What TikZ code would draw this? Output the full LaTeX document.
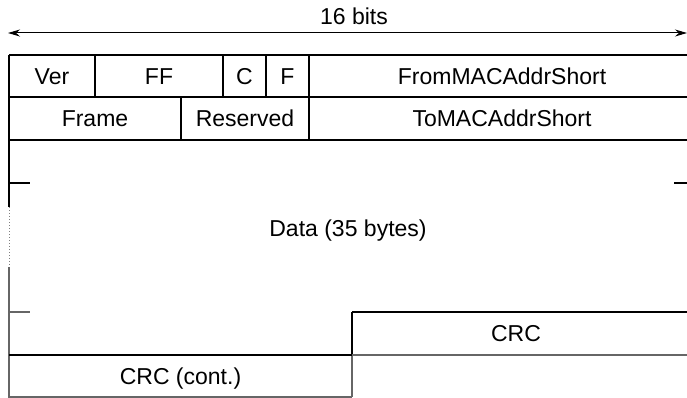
\documentclass[tikz,border=0pt]{standalone}
\usepackage{fontspec}
\setmainfont{Liberation Sans}
\usetikzlibrary{arrows.meta}
\begin{document}
\begin{tikzpicture}[x=1pt,y=-1pt,
  fld/.style={inner sep=0pt,text height=16.5pt,text depth=0pt,font=\fontsize{23}{27}\selectfont},
  rule/.style={line width=1.3pt,black},
  faint/.style={line width=1.3pt,black!60},
  heavy/.style={line width=2pt,black}]
\useasboundingbox (0,0) rectangle (687,398);

% width indicator
\node[fld] (bits) at (354,16) {16 bits};
\coordinate (wl) at (8,33);
\coordinate (wr) at (687,33);
\draw[line width=1pt,{Stealth[length=12pt,width=7pt]}-{Stealth[length=12pt,width=7pt]}] (wl) -- (wr);

% first two rows
\draw[rule] (9,55) -- (687,55);
\draw[rule] (9,97) -- (687,97);
\draw[rule] (9,140) -- (687,140);
\draw[rule] (95,55) -- (95,97);
\draw[rule] (223,55) -- (223,97);
\draw[rule] (266,55) -- (266,97);
\draw[rule] (309,55) -- (309,140);
\draw[rule] (181,97) -- (181,140);

\node[fld] (ver)  at (52,76)    {Ver};
\node[fld] (ff)   at (159,76)   {FF};
\node[fld] (c)    at (244.5,76) {C};
\node[fld] (f)    at (287.5,76) {F};
\node[fld] (from) at (502,76)   {FromMACAddrShort};
\node[fld] (frm)  at (95,118.5) {Frame};
\node[fld] (res)  at (245,118.5){Reserved};
\node[fld] (to)   at (502,118.5){ToMACAddrShort};

% left border with the elided middle part
\draw[rule] (9,55) -- (9,207);
\draw[line width=1pt,black!50,dotted] (9,207) -- (9,267);
\draw[faint] (9,267) -- (9,398);

% word ticks inside the data area
\draw[rule] (9,183) -- (30,183);
\draw[rule] (674,183) -- (687,183);
\draw[faint] (9,312) -- (30,312);

\node[fld] (data) at (348,228) {Data (35 bytes)};

% CRC fields
\draw[rule] (352,312) -- (687,312);
\draw[rule] (352,312) -- (352,355);
\draw[faint] (352,355) -- (352,397);
\draw[heavy] (9,355) -- (352,355);
\draw[faint] (352,355) -- (687,355);
\draw[faint] (9,397) -- (352,397);

\node[fld] (crc)  at (516,333.5) {CRC};
\node[fld] (crc2) at (180.5,376) {CRC (cont.)};
\end{tikzpicture}
\end{document}
